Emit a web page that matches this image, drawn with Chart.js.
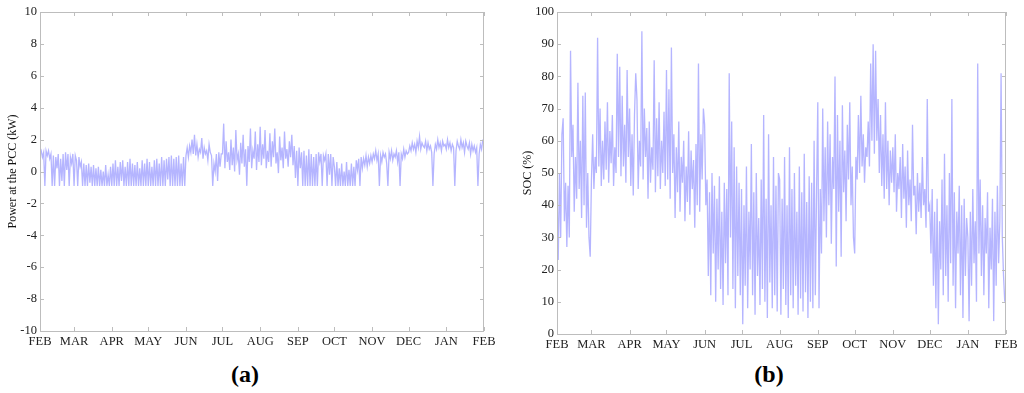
<!DOCTYPE html>
<html>
<head>
<meta charset="utf-8">
<script src="https://cdn.jsdelivr.net/npm/chart.js@4.4.1/dist/chart.umd.min.js"></script>
<style>
  body { margin:0; background:#fff; width:1024px; height:393px; overflow:hidden; position:relative; font-family:"Liberation Serif", serif; }
  canvas { position:absolute; top:0; }
  #chart-a { left:0; }
  #chart-b { left:500px; }
  .panel-tag { position:absolute; top:361px; font:bold 24px "Liberation Serif", serif; color:#000; text-align:center; width:80px; }
</style>
</head>
<body>
<canvas id="chart-a" width="500" height="360"></canvas>
<canvas id="chart-b" width="524" height="360"></canvas>
<div class="panel-tag" style="left:205px">(a)</div>
<div class="panel-tag" style="left:729px">(b)</div>
<script>
'use strict';

// month ticks (day of year counted from 1 Feb)
const monthStarts = [0, 28, 59, 89, 120, 150, 181, 212, 242, 273, 303, 334, 365];
const monthLabels = ['FEB','MAR','APR','MAY','JUN','JUL','AUG','SEP','OCT','NOV','DEC','JAN','FEB'];

// (a) power at the PCC, kW, one reading per day
const powerKw = [
  1.1, 1.3, 0.9, 1.2, -0.9, 1.3, 1.0, 1.3, 0.8, 1.1, -0.9, 1.0, -0.9, 0.9, 0.2, 1.1, -0.9, 0.8, -0.6, 1.1, -0.9, 1.2, 0.1, 1.1, -0.9, 0.9, 0.5, 1.1,
  -0.9, 1.0, 0.7, -0.9, 0.9, 0.3, 0.6, -0.9, 0.5, -0.9, 0.4, -0.9, 0.5, -0.7, 0.3, -0.9, 0.4, -0.9, 0.2, -0.9, 0.3, -0.9, 0.1, -0.9, 0.0, -0.9, 0.4, -0.9, -0.2, -0.9, 0.3,
  -0.9, 0.5, -0.9, 0.7, -0.9, 0.3, -0.9, 0.6, -0.6, 0.7, -0.9, 0.3, -0.9, 0.6, -0.9, 0.8, -0.9, 0.5, -0.9, 0.4, -0.9, 0.6, -0.9, 0.2, -0.9, 0.7, -0.9, 0.5, -0.9, 0.8,
  -0.9, 0.6, -0.9, 0.3, -0.9, 0.7, -0.9, 0.8, -0.9, 0.5, -0.9, 0.9, -0.9, 0.7, -0.9, 0.8, -0.5, 0.9, -0.9, 1.0, -0.9, 0.8, -0.9, 0.9, -0.9, 1.0, -0.9, 0.5, -0.9, 0.9, -0.9,
  1.0, 1.5, 0.9, 1.6, 1.2, 2.0, 1.1, 2.3, 1.0, 1.7, 0.9, 1.4, 1.2, 2.1, 0.8, 1.5, 1.1, 1.3, 0.7, 1.7, 1.2, 1.0, -0.9, 0.5, 0.0, 1.1, -0.6, 1.2, 0.3, 1.1,
  1.1, 3.0, 0.2, 1.9, 0.6, 1.2, 0.1, 2.0, 0.4, 1.5, 0.0, 2.6, 0.7, 1.1, -0.2, 1.8, 0.5, 2.3, 0.3, 1.4, -0.9, 1.6, 0.6, 2.7, 0.2, 1.3, 0.8, 2.5, 0.1, 1.7, 0.6,
  2.8, 0.4, 1.7, 0.8, 2.6, 0.2, 1.3, 0.6, 2.4, 0.3, 1.9, 0.9, 2.7, 0.5, 1.2, -0.1, 2.2, 0.7, 1.5, 0.2, 2.5, 0.8, 1.4, 0.3, 1.9, 0.9, 2.3, 0.4, 1.6, -0.4, 1.3,
  -0.9, 1.5, 0.2, 1.2, -0.9, 1.3, -0.9, 1.0, -0.9, 1.4, -0.9, 1.1, -0.9, 0.9, -0.9, 1.1, -0.9, 1.2, 0.6, 1.1, -0.9, 1.0, 0.7, 1.1, -0.9, 1.1, -0.2, 1.1, -0.9, 0.9,
  0.3, -0.9, 0.6, -0.9, 0.2, -0.9, 0.5, -0.9, 0.0, -0.9, 0.6, -0.9, 0.1, -0.9, 0.5, -0.9, 0.3, -0.9, 0.7, 0.1, 0.8, -0.9, 0.9, 0.2, 0.8, 0.4, 1.0, 0.3, 0.9, 0.5, 1.0,
  0.6, 1.1, 0.8, 1.3, 0.7, 1.1, -0.9, 1.0, 0.6, 1.2, 0.9, 1.1, 0.5, -0.9, 1.2, 0.8, 1.3, 0.7, 1.1, 0.9, 1.3, 0.6, 1.2, -0.9, 1.1, 0.8, 1.4, 0.9, 1.3, 1.1,
  1.2, 1.6, 1.3, 1.8, 1.4, 1.7, 1.2, 1.9, 1.5, 2.2, 1.4, 1.8, 1.6, 1.5, 1.9, 1.3, 1.8, 1.4, 1.6, 1.2, -0.9, 1.1, 1.7, 1.4, 2.0, 1.5, 1.8, 1.3, 1.9, 1.6, 1.7,
  1.4, 2.0, 1.5, 1.8, 1.3, 1.7, 1.5, -0.9, 1.3, 1.9, 1.6, 1.4, 2.0, 1.5, 1.8, 1.2, 1.9, 1.6, 1.4, 1.8, 1.1, 1.7, 1.3, 1.6, 1.2, 1.5, -0.9, 1.1, 1.7, 1.4, 2.0
];

// (b) battery state of charge, %, one reading per day
const socPct = [
  45, 23, 50, 30, 62, 67, 35, 47, 27, 46, 30, 88, 55, 65, 38, 55, 42, 78, 45, 60, 36, 74, 40, 75, 33, 50, 30, 24,
  48, 62, 45, 55, 50, 92, 52, 70, 46, 60, 48, 66, 51, 72, 47, 63, 53, 68, 46, 58, 50, 87, 55, 83, 49, 74, 52, 65, 47, 82, 55,
  70, 46, 62, 43, 68, 81, 73, 45, 60, 52, 94, 48, 70, 55, 64, 42, 66, 47, 58, 51, 85, 44, 67, 49, 72, 45, 60, 50, 69, 46,
  82, 48, 76, 42, 89, 50, 62, 36, 58, 44, 66, 38, 55, 47, 60, 35, 52, 41, 63, 37, 57, 45, 54, 33, 59, 40, 84, 38, 62, 48, 70,
  65, 40, 48, 18, 44, 12, 50, 25, 46, 10, 42, 20, 49, 14, 38, 9, 47, 22, 45, 12, 81, 30, 66, 14, 58, 8, 52, 18, 47, 12,
  45, 3, 40, 15, 52, 8, 38, 20, 59, 12, 44, 6, 50, 18, 36, 9, 48, 14, 68, 10, 42, 5, 62, 16, 40, 8, 55, 12, 46, 7, 50,
  48, 6, 42, 14, 55, 9, 40, 5, 58, 12, 45, 8, 50, 15, 38, 6, 52, 11, 44, 7, 56, 13, 41, 5, 49, 10, 47, 8, 60, 12, 44,
  72, 8, 45, 25, 70, 35, 58, 30, 66, 40, 62, 28, 55, 45, 80, 21, 68, 38, 60, 24, 71, 44, 57, 35, 65, 48, 72, 40, 52, 30,
  25, 55, 48, 68, 50, 74, 52, 62, 47, 58, 55, 66, 52, 84, 60, 90, 56, 88, 60, 73, 50, 68, 46, 62, 42, 72, 45, 60, 40, 57, 47,
  58, 44, 62, 38, 50, 45, 55, 36, 59, 42, 52, 33, 57, 40, 48, 35, 65, 43, 46, 31, 50, 38, 47, 36, 55, 40, 45, 33, 73, 38,
  40, 25, 45, 15, 38, 8, 42, 3, 35, 20, 48, 12, 56, 18, 40, 10, 50, 22, 73, 15, 44, 8, 38, 25, 46, 12, 40, 5, 42, 18, 36,
  30, 4, 38, 15, 45, 22, 35, 10, 84, 25, 48, 18, 40, 12, 36, 25, 44, 8, 33, 20, 42, 4, 38, 15, 46, 22, 35, 81, 30, 18, 10
];

const SERIF = '"Liberation Serif", "Times New Roman", serif';
const LINE = 'rgba(90,90,255,0.45)';

// MATLAB-like frame: grey box with inward ticks on all four sides
const boxTicks = {
  id: 'boxTicks',
  afterDraw(chart) {
    const { ctx, chartArea: a, scales: { x, y } } = chart;
    ctx.save();
    ctx.strokeStyle = '#bdbdbd';
    ctx.lineWidth = 1;
    ctx.strokeRect(a.left + 0.5, a.top + 0.5, a.right - a.left - 1, a.bottom - a.top);
    ctx.beginPath();
    x.ticks.forEach(t => {
      const px = Math.round(x.getPixelForValue(t.value)) + 0.5;
      ctx.moveTo(px, a.bottom); ctx.lineTo(px, a.bottom - 4);
      ctx.moveTo(px, a.top); ctx.lineTo(px, a.top + 4);
    });
    y.ticks.forEach(t => {
      const py = Math.round(y.getPixelForValue(t.value)) + 0.5;
      ctx.moveTo(a.left, py); ctx.lineTo(a.left + 4, py);
      ctx.moveTo(a.right, py); ctx.lineTo(a.right - 4, py);
    });
    ctx.stroke();
    ctx.restore();
  }
};

function makeChart(id, values, yOpts) {
  const ctx = document.getElementById(id).getContext('2d');
  return new Chart(ctx, {
    type: 'line',
    data: {
      datasets: [{
        data: values.map((v, i) => ({ x: i, y: v })),
        borderColor: LINE,
        borderWidth: 1.3,
        pointRadius: 0,
        tension: 0,
        fill: false,
      }],
    },
    options: {
      responsive: false,
      animation: false,
      layout: { padding: { top: 12, right: yOpts.padRight, left: 0, bottom: 0 } },
      plugins: { legend: { display: false }, tooltip: { enabled: false } },
      scales: {
        x: {
          type: 'linear', min: 0, max: 365,
          grid: { display: false, drawTicks: false, tickLength: 0 }, border: { display: false },
          afterBuildTicks: s => { s.ticks = monthStarts.map(v => ({ value: v })); },
          afterFit: s => { s.height = yOpts.xHeight; },
          ticks: {
            padding: 3, maxRotation: 0, autoSkip: false, color: '#222',
            font: { family: SERIF, size: 12.5 },
            callback: v => monthLabels[monthStarts.indexOf(v)],
          },
        },
        y: {
          min: yOpts.min, max: yOpts.max,
          grid: { display: false, drawTicks: false, tickLength: 0 }, border: { display: false },
          afterFit: s => { s.width = yOpts.yWidth; },
          ticks: { stepSize: yOpts.step, padding: 3, color: '#222', font: { family: SERIF, size: 12.5 } },
          title: { display: true, text: yOpts.title, color: '#111', padding: { top: yOpts.titlePad, bottom: 0 }, font: { family: SERIF, size: 12 } },
        },
      },
    },
    plugins: [boxTicks],
  });
}

makeChart('chart-a', powerKw, { min: -10, max: 10, step: 2, title: 'Power at the PCC (kW)', titlePad: 6, yWidth: 40, xHeight: 29, padRight: 16 });
makeChart('chart-b', socPct, { min: 0, max: 100, step: 10, title: 'SOC (%)', titlePad: 21, yWidth: 57, xHeight: 26, padRight: 18 });
</script>
</body>
</html>
